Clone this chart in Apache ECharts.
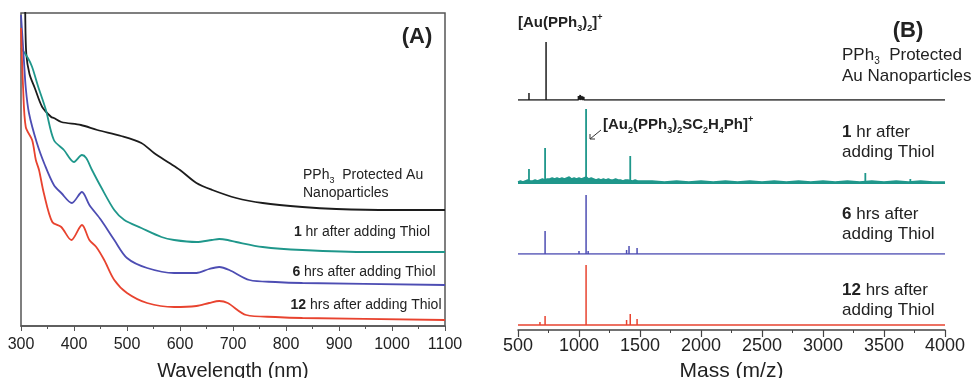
<!DOCTYPE html>
<html>
<head>
<meta charset="utf-8">
<script src="https://cdn.jsdelivr.net/npm/echarts@6/dist/echarts.min.js"></script>
<style>
  html, body { margin: 0; padding: 0; background: #fff; }
  #chart { width: 971px; height: 378px; }
</style>
</head>
<body>
<div id="chart"></div>
<script>
// (A) UV-vis spectra, [wavelength nm, absorbance a.u.]
const uvPPh3 = [[306,420],[308,312],[310,272],[316,252],[326,238],[340,219],[357,209],[362,208],[376,204],[413,201],[444,196],[489,190],[527,183],[551,173],[580,163],[600,156],[631,143],[661,136],[706,128],[756,123],[831,119],[895,117],[1000,116],[1100,116]];
const uv1hr = [[300,278],[313,268],[321,259],[332,240],[347,216],[362,186],[381,176],[400,164],[415,171],[423,168],[434,156],[451,139],[476,116],[495,106],[527,98],[565,89],[589,86],[631,84],[660,86],[674,87],[690,86],[706,84],[756,79],[831,76],[958,74],[1100,74]];
const uv6hr = [[300,311],[305,270],[309,238],[315,213],[330,183],[345,161],[362,141],[376,133],[396,123],[415,134],[429,121],[451,106],[476,86],[500,68],[538,58],[589,53],[631,53],[655,57],[674,59],[693,56],[731,46],[780,44],[831,43],[1100,41]];
const uv12hr = [[300,298],[304,238],[309,199],[321,186],[328,166],[334,156],[343,133],[359,104],[376,99],[395,86],[415,101],[429,86],[442,79],[457,66],[476,46],[500,33],[538,23],[589,19],[631,20],[655,23],[674,25],[690,23],[725,11],[780,9],[831,8],[1100,6]];

// (B) mass spectra peaks, [m/z, relative intensity]
const msPPh3 = [[590,7],[730,58],[995,4],[1010,5],[1025,4],[1040,3],[1420,2]];
const ms1hr = [[590,14],[722,35],[1058,74],[1420,27],[3347,10],[3716,4]];
const ms1hrNoise = [[500,1],[520,2],[540,1],[560,2],[580,3],[600,2],[620,2],[640,3],[660,2],[680,3],[700,4],[720,3],[740,4],[760,4],[780,5],[800,4],[820,5],[840,4],[860,5],[880,4],[900,5],[920,6],[940,4],[960,5],[980,4],[1000,5],[1020,4],[1040,5],[1060,6],[1080,4],[1100,5],[1120,4],[1140,3],[1160,4],[1180,3],[1200,4],[1220,3],[1240,4],[1260,3],[1280,3],[1300,4],[1320,3],[1340,3],[1360,2],[1380,3],[1400,3],[1440,2],[1460,3],[1480,2],[1500,2],[1600,2],[1700,1],[1800,2],[1900,1],[2000,2],[2100,1],[2200,2],[2300,1],[2400,2],[2500,1],[2600,2],[2700,1],[2800,2],[2900,1],[3000,2],[3100,1],[3200,2],[3300,1],[3400,2],[3500,1],[3600,2],[3700,1],[3800,2],[3900,1],[4000,1]];
const ms6hr = [[566,2],[722,23],[1000,3],[1058,59],[1075,3],[1130,2],[1390,4],[1410,8],[1476,6],[2300,1]];
const ms12hr = [[515,2],[680,3],[722,9],[1058,60],[1390,5],[1420,11],[1476,6],[1730,2],[2300,1]];

const wlTicks = [300, 1100, 100];
const massTicks = [500, 4000, 500];

const C_BLACK = '#1c1c1c', C_TEAL = '#1f978b', C_BLUE = '#4d4db3', C_RED = '#e8432f';
const FONT = '"Liberation Sans", Arial, sans-serif';

// stick spectrum: baseline with a vertical line for each peak
function sticks(peaks) {
  const pts = [[massTicks[0], 0]];
  peaks.forEach(p => { pts.push([p[0], 0], [p[0], p[1]], [p[0], 0]); });
  pts.push([massTicks[1], 0]);
  return pts;
}

const chart = echarts.init(document.getElementById('chart'), null, { renderer: 'canvas' });

const axisText = { color: '#222', fontFamily: FONT };
const plain = v => String(v);
const gridBase = { outerBoundsMode: 'none', containLabel: false };
const grids = [
  { ...gridBase, left: 21, top: 13, width: 424, height: 313, show: true, borderColor: '#555', borderWidth: 1.5 },
  { ...gridBase, left: 518, top: 20, width: 427, height: 80 },
  { ...gridBase, left: 518, top: 103, width: 427, height: 80 },
  { ...gridBase, left: 518, top: 174, width: 427, height: 80 },
  { ...gridBase, left: 518, top: 250, width: 427, height: 80 }
];

const xAxes = [
  {
    gridIndex: 0, type: 'value', min: wlTicks[0], max: wlTicks[1], interval: wlTicks[2],
    name: 'Wavelength (nm)', nameLocation: 'middle', nameGap: 35,
    nameTextStyle: { ...axisText, fontSize: 20 },
    axisLine: { onZero: false, lineStyle: { color: '#555', width: 1.5 } },
    axisTick: { length: 5, lineStyle: { color: '#555' } },
    minorTick: { show: true, splitNumber: 2, length: 3, lineStyle: { color: '#555' } },
    axisLabel: { ...axisText, fontSize: 16, margin: 11, formatter: plain },
    splitLine: { show: false }
  }
];
for (let i = 1; i <= 3; i++) {
  xAxes.push({ gridIndex: i, type: 'value', min: massTicks[0], max: massTicks[1], show: false, splitLine: { show: false } });
}
xAxes.push({
  gridIndex: 4, type: 'value', min: massTicks[0], max: massTicks[1], interval: massTicks[2],
  name: 'Mass (m/z)', nameLocation: 'middle', nameGap: 31,
  nameTextStyle: { ...axisText, fontSize: 21 },
  axisLine: { onZero: false, lineStyle: { color: '#444', width: 1.5 } },
  axisTick: { length: 7, lineStyle: { color: '#444', width: 1.2 } },
  minorTick: { show: true, splitNumber: 2, length: 3, lineStyle: { color: '#444' } },
  axisLabel: { ...axisText, fontSize: 18, margin: 7, formatter: plain },
  splitLine: { show: false }
});

const yAxes = [
  { gridIndex: 0, type: 'value', min: 0, max: 313, show: false },
  { gridIndex: 1, type: 'value', min: 0, max: 80, show: false },
  { gridIndex: 2, type: 'value', min: 0, max: 80, show: false },
  { gridIndex: 3, type: 'value', min: 0, max: 80, show: false },
  { gridIndex: 4, type: 'value', min: -5, max: 75, show: false }
];

function uvLine(data, color) {
  return { type: 'line', xAxisIndex: 0, yAxisIndex: 0, data, showSymbol: false, smooth: 0.3,
    lineStyle: { color, width: 1.8 }, clip: true };
}
function msLine(idx, data, color, w) {
  return { type: 'line', xAxisIndex: idx, yAxisIndex: idx, data, showSymbol: false,
    lineStyle: { color, width: w } };
}

const sub = { fontSize: 9, verticalAlign: 'bottom', lineHeight: 20 };
const sup = { fontSize: 9, verticalAlign: 'top', lineHeight: 20 };
function txt(x, y, text, size, opts) {
  opts = opts || {};
  return {
    type: 'text', x, y, silent: true,
    style: {
      text, fill: '#222', font: (opts.bold ? 'bold ' : '') + size + 'px ' + FONT,
      textAlign: opts.align || 'left', textVerticalAlign: 'middle',
      rich: opts.rich
    }
  };
}
const richA = {
  n: { fontSize: 14, fontFamily: FONT, lineHeight: 20, verticalAlign: 'middle' },
  b: { fontSize: 14, fontFamily: FONT, fontWeight: 'bold', lineHeight: 20, verticalAlign: 'middle' },
  s: { ...sub, fontFamily: FONT }
};
const richB = {
  n: { fontSize: 17, fontFamily: FONT, lineHeight: 22, verticalAlign: 'middle' },
  b: { fontSize: 17, fontFamily: FONT, fontWeight: 'bold', lineHeight: 22, verticalAlign: 'middle' },
  s: { fontSize: 10, fontFamily: FONT, verticalAlign: 'bottom', lineHeight: 22 }
};
const richIon = {
  b: { fontSize: 15, fontFamily: FONT, fontWeight: 'bold', lineHeight: 20, verticalAlign: 'middle' },
  s: { ...sub, fontFamily: FONT, fontWeight: 'bold' },
  p: { ...sup, fontFamily: FONT, fontWeight: 'bold' }
};

const option = {
  animation: false,
  backgroundColor: '#fff',
  grid: grids,
  xAxis: xAxes,
  yAxis: yAxes,
  series: [
    uvLine(uvPPh3, C_BLACK),
    uvLine(uv1hr, C_TEAL),
    uvLine(uv6hr, C_BLUE),
    uvLine(uv12hr, C_RED),
    msLine(1, sticks(msPPh3), C_BLACK, 1.5),
    { type: 'line', xAxisIndex: 2, yAxisIndex: 2, data: ms1hrNoise, showSymbol: false,
      lineStyle: { color: C_TEAL, width: 1.5 }, areaStyle: { color: C_TEAL, opacity: 1 } },
    msLine(2, sticks(ms1hr), C_TEAL, 1.8),
    msLine(3, sticks(ms6hr), C_BLUE, 1.5),
    msLine(4, sticks(ms12hr), C_RED, 1.5)
  ],
  graphic: [
    txt(417, 37, '(A)', 22, { bold: true, align: 'center' }),
    txt(303, 175, '{n|PPh}{s|3}{n|  Protected Au}', 14, { rich: richA }),
    txt(303, 193, 'Nanoparticles', 14),
    txt(362, 232, '{b|1}{n| hr after adding Thiol}', 14, { rich: richA, align: 'center' }),
    txt(364, 272, '{b|6}{n| hrs after adding Thiol}', 14, { rich: richA, align: 'center' }),
    txt(366, 305, '{b|12}{n| hrs after adding Thiol}', 14, { rich: richA, align: 'center' }),

    txt(908, 31, '(B)', 22, { bold: true, align: 'center' }),
    txt(518, 23, '{b|[Au(PPh}{s|3}{b|)}{s|2}{b|]}{p|+}', 15, { rich: richIon }),
    txt(603, 125, '{b|[Au}{s|2}{b|(PPh}{s|3}{b|)}{s|2}{b|SC}{s|2}{b|H}{s|4}{b|Ph]}{p|+}', 15, { rich: richIon }),
    txt(842, 55, '{n|PPh}{s|3}{n|  Protected}', 17, { rich: richB }),
    txt(842, 76, 'Au Nanoparticles', 17),
    txt(842, 132, '{b|1}{n| hr after}', 17, { rich: richB }),
    txt(842, 152, 'adding Thiol', 17),
    txt(842, 214, '{b|6}{n| hrs after}', 17, { rich: richB }),
    txt(842, 234, 'adding Thiol', 17),
    txt(842, 290, '{b|12}{n| hrs after}', 17, { rich: richB }),
    txt(842, 310, 'adding Thiol', 17),
    {
      type: 'group', silent: true,
      children: [
        { type: 'line', shape: { x1: 601, y1: 130, x2: 590, y2: 139 }, style: { stroke: '#333', lineWidth: 1 } },
        { type: 'polyline', shape: { points: [[590, 134], [590, 139], [595, 139]] }, style: { stroke: '#333', lineWidth: 1, fill: null } }
      ]
    }
  ]
};
chart.setOption(option);
</script>
</body>
</html>
